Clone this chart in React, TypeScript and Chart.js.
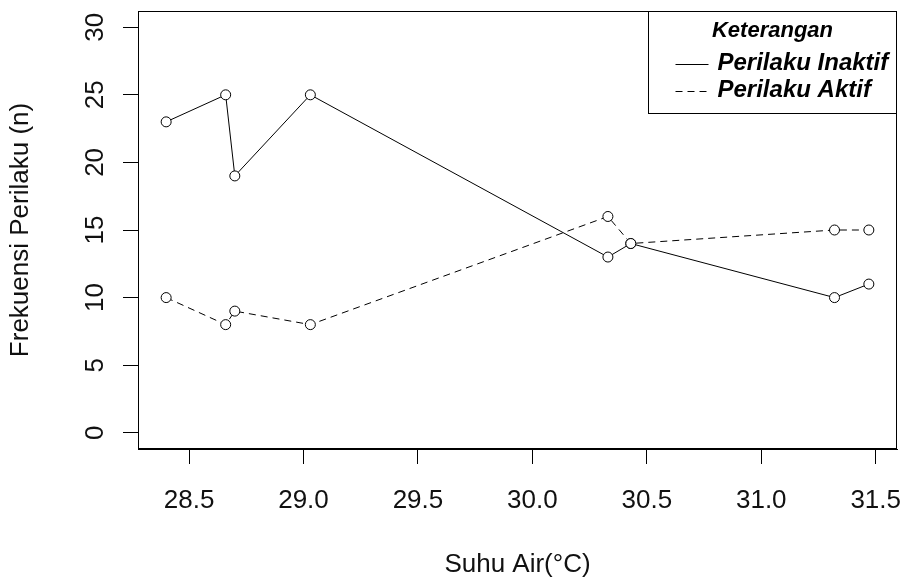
import React, { useEffect, useRef } from 'react';
import { Chart, registerables } from 'chart.js';

Chart.register(...registerables);

const suhuAir = [28.4, 28.66, 28.7, 29.03, 30.33, 30.43, 31.32, 31.47];
const perilakuInaktif = [23, 25, 19, 25, 13, 14, 10, 11];
const perilakuAktif = [10, 8, 9, 8, 16, 14, 15, 15];
const xTicks = [28.5, 29.0, 29.5, 30.0, 30.5, 31.0, 31.5];
const yTicks = [0, 5, 10, 15, 20, 25, 30];
const seriesLabels = ['Perilaku Inaktif', 'Perilaku Aktif'];
const legendTitle = 'Keterangan';
const xTitle = 'Suhu Air(°C)';
const yTitle = 'Frekuensi Perilaku (n)';

const FAMILY = "'Liberation Sans', Arial, Helvetica, sans-serif";

const boxPlugin = {
  id: 'rBox',
  afterDraw(chart: any) {
    const { ctx, chartArea } = chart;
    ctx.save();
    ctx.strokeStyle = '#000';
    ctx.lineWidth = 1;
    const l = Math.round(chartArea.left) + 0.5;
    const t = Math.round(chartArea.top) + 0.5;
    const r = Math.round(chartArea.right) - 0.5;
    const b = Math.round(chartArea.bottom) - 0.5;
    ctx.strokeRect(l, t, r - l, b - t);

    // legend box
    const w = 249;
    const h = 102;
    const lx = Math.round(chartArea.right - w) + 0.5;
    const ty = t;
    ctx.fillStyle = '#fff';
    ctx.fillRect(lx, ty, r - lx, h);
    ctx.strokeRect(lx, ty, r - lx, h);
    ctx.fillStyle = '#000';
    ctx.font = `italic bold 22px ${FAMILY}`;
    ctx.textAlign = 'center';
    ctx.textBaseline = 'middle';
    ctx.fillText(legendTitle, lx + 124, ty + 19);
    ctx.font = `italic bold 24px ${FAMILY}`;
    ctx.textAlign = 'left';
    chart.data.datasets.forEach((ds: any, i: number) => {
      const y = ty + 52 + i * 27;
      ctx.beginPath();
      ctx.setLineDash(ds.borderDash || []);
      ctx.moveTo(lx + 27, Math.round(y) + 0.5);
      ctx.lineTo(lx + 60, Math.round(y) + 0.5);
      ctx.stroke();
      ctx.setLineDash([]);
      ctx.fillText(ds.label, lx + 69, y);
    });
    ctx.restore();
  },
};

export default function App() {
  const ref = useRef<HTMLCanvasElement>(null);
  useEffect(() => {
    document.body.style.margin = '0';
    const canvas = ref.current;
    if (!canvas) return;
    const font = { family: FAMILY, size: 26 };
    const chart = new Chart(canvas, {
      type: 'scatter',
      data: {
        datasets: [
          {
            label: seriesLabels[0],
            data: suhuAir.map((x, i) => ({ x, y: perilakuInaktif[i] })),
            showLine: true,
            borderColor: '#000',
            borderWidth: 1,
            pointRadius: 5,
            pointBorderWidth: 1,
            pointBorderColor: '#000',
            pointBackgroundColor: '#fff',
            tension: 0,
          },
          {
            label: seriesLabels[1],
            data: suhuAir.map((x, i) => ({ x, y: perilakuAktif[i] })),
            showLine: true,
            borderColor: '#000',
            borderWidth: 1,
            borderDash: [7, 5],
            pointRadius: 5,
            pointBorderWidth: 1,
            pointBorderColor: '#000',
            pointBackgroundColor: '#fff',
            tension: 0,
          },
        ],
      },
      options: {
        responsive: false,
        animation: false,
        layout: { padding: { top: 11, right: 6, left: 0, bottom: 0 } },
        plugins: { legend: { display: false }, tooltip: { enabled: false } },
        scales: {
          x: {
            type: 'linear',
            min: 28.277,
            max: 31.593,
            afterBuildTicks: (s: any) => {
              s.ticks = xTicks.map((v) => ({ value: v }));
            },
            afterFit: (s: any) => {
              s.height = 132;
              s.paddingLeft = 0;
              s.paddingRight = 0;
            },
            grid: { drawOnChartArea: false, drawTicks: true, tickLength: 15, color: '#000', lineWidth: 1 },
            border: { display: true, color: '#000', width: 1 },
            ticks: {
              font,
              color: '#111',
              padding: 21,
              autoSkip: false,
              maxRotation: 0,
              minRotation: 0,
              callback: (v: any) => Number(v).toFixed(1),
            },
            title: { display: true, text: xTitle, font, color: '#111', padding: { top: 0, bottom: 1 } },
          },
          y: {
            type: 'linear',
            min: -1.2,
            max: 31.2,
            afterBuildTicks: (s: any) => {
              s.ticks = yTicks.map((v) => ({ value: v }));
            },
            afterFit: (s: any) => {
              s.width = 138;
              s.paddingTop = 0;
              s.paddingBottom = 0;
            },
            grid: { drawOnChartArea: false, drawTicks: true, tickLength: 15, color: '#000', lineWidth: 1 },
            border: { display: true, color: '#000', width: 1 },
            ticks: {
              font,
              color: '#111',
              padding: 13,
              autoSkip: false,
              minRotation: 90,
              maxRotation: 90,
              crossAlign: 'center',
              callback: (v: any) => String(v),
            },
            title: { display: true, text: yTitle, font, color: '#111', padding: { top: 5, bottom: 0 } },
          },
        },
      } as any,
      plugins: [boxPlugin],
    });
    return () => chart.destroy();
  }, []);
  return <canvas ref={ref} width={903} height={581} style={{ display: 'block' }} />;
}
